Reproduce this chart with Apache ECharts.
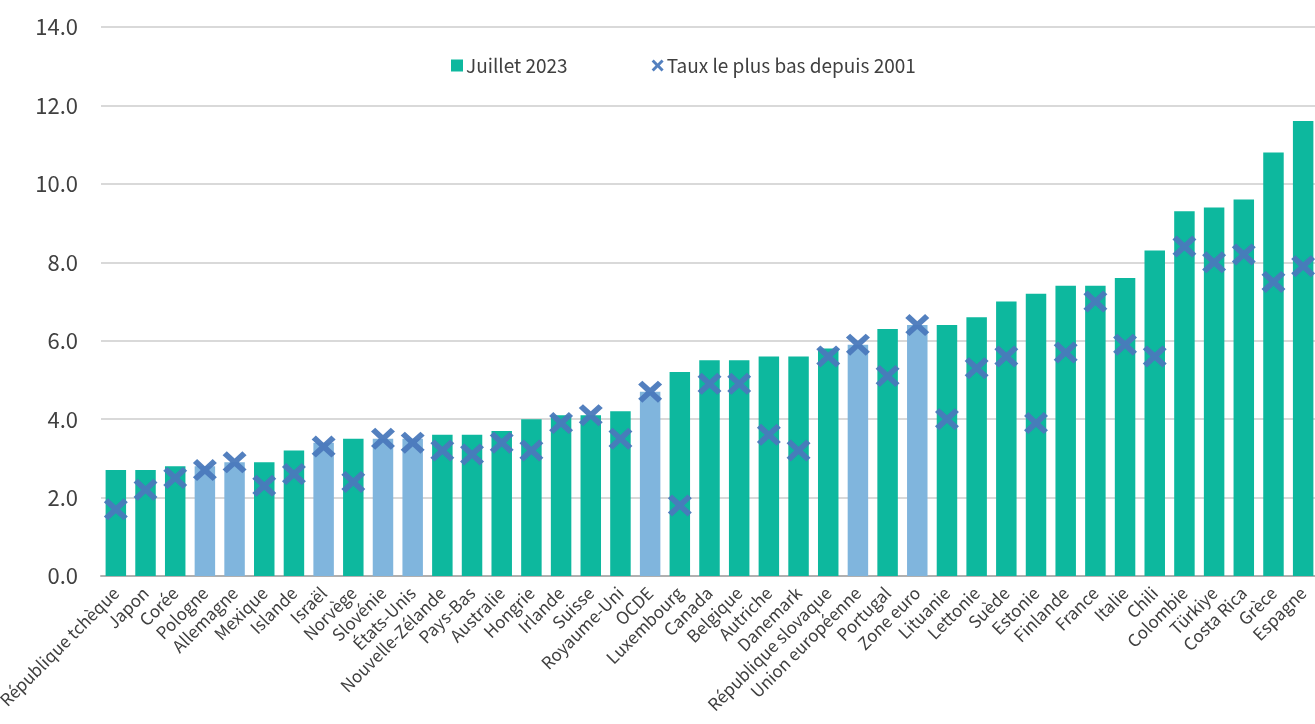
<!DOCTYPE html>
<html><head><meta charset="utf-8">
<script src="https://cdn.jsdelivr.net/npm/echarts@6/dist/echarts.min.js"></script>
<style>html,body{margin:0;padding:0;background:#fff}#c{width:1315px;height:724px}</style>
</head><body><div id="c"></div>
<script>
const categories = ["République tchèque","Japon","Corée","Pologne","Allemagne","Mexique","Islande","Israël","Norvège","Slovénie","États-Unis","Nouvelle-Zélande","Pays-Bas","Australie","Hongrie","Irlande","Suisse","Royaume-Uni","OCDE","Luxembourg","Canada","Belgique","Autriche","Danemark","République slovaque","Union européenne","Portugal","Zone euro","Lituanie","Lettonie","Suède","Estonie","Finlande","France","Italie","Chili","Colombie","Türkiye","Costa Rica","Grèce","Espagne"];
const july2023 = [2.7,2.7,2.8,2.8,2.9,2.9,3.2,3.4,3.5,3.5,3.5,3.6,3.6,3.7,4.0,4.1,4.1,4.2,4.7,5.2,5.5,5.5,5.6,5.6,5.8,5.9,6.3,6.4,6.4,6.6,7.0,7.2,7.4,7.4,7.6,8.3,9.3,9.4,9.6,10.8,11.6];
const lowest2001 = [1.7,2.2,2.5,2.7,2.9,2.3,2.6,3.3,2.4,3.5,3.4,3.2,3.1,3.4,3.2,3.9,4.1,3.5,4.7,1.8,4.9,4.9,3.6,3.2,5.6,5.9,5.1,6.4,4.0,5.3,5.6,3.9,5.7,7.0,5.9,5.6,8.4,8.0,8.2,7.5,7.9];
const highlighted = ["Pologne","Allemagne","Israël","Slovénie","États-Unis","OCDE","Union européenne","Zone euro"];
const yTicks = [0,2,4,6,8,10,12,14];

const GREEN = '#0DB89E', BLUE = '#80B5DD', MARK = '#4A79BC';
const FONT = '"Noto Sans CJK JP","Noto Sans",sans-serif';
const XPATH = 'path://M3.5,0 L10,6.5 L16.5,0 L20,3.5 L13.5,10 L20,16.5 L16.5,20 L10,13.5 L3.5,20 L0,16.5 L6.5,10 L0,3.5 Z';

const chart = echarts.init(document.getElementById('c'));
chart.setOption({
  animation:false,
  textStyle:{fontFamily:FONT},
  grid:{left:101,right:-3,top:27,bottom:148,containLabel:false,outerBoundsMode:'none'},
  legend:{
    left:446, top:51, itemGap:84, itemWidth:12, itemHeight:12,
    textStyle:{fontFamily:FONT,fontSize:19,color:'#404040',padding:[0,0,0,-2]},
    data:[{name:'Juillet 2023',icon:'rect',itemStyle:{color:GREEN}},
          {name:'Taux le plus bas depuis 2001',icon:XPATH,itemStyle:{color:MARK}}]
  },
  xAxis:{
    type:'category', data:categories,
    axisLine:{lineStyle:{color:'#b0b0b0',width:2}},
    axisTick:{show:false},
    axisLabel:{interval:0,rotate:45,fontSize:17,color:'#404040',fontFamily:FONT,margin:14}
  },
  yAxis:{
    type:'value', min:yTicks[0], max:yTicks[yTicks.length-1], interval:2,
    axisLine:{show:false}, axisTick:{show:false},
    splitLine:{lineStyle:{color:'#d9d9d9',width:2}},
    axisLabel:{fontSize:22,color:'#404040',fontFamily:FONT,margin:23,formatter:v=>v.toFixed(1)}
  },
  series:[
    {name:'Juillet 2023', type:'bar', barCategoryGap:'31%',
     data:july2023.map((v,i)=>({value:v,itemStyle:{color:highlighted.includes(categories[i])?BLUE:GREEN}}))},
    {name:'Taux le plus bas depuis 2001', type:'scatter', symbol:XPATH, symbolSize:[24,22],
     itemStyle:{color:MARK,opacity:0.95}, data:lowest2001, z:3}
  ]
});
</script></body></html>
